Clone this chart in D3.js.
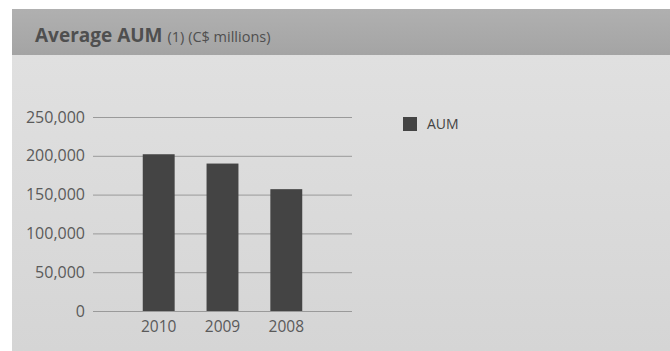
<!DOCTYPE html>
<html>
<head>
<meta charset="utf-8">
<script src="https://cdn.jsdelivr.net/npm/d3@7"></script>
<style>
  html, body { margin: 0; padding: 0; background: #fff; }
  svg { display: block; }
</style>
</head>
<body>
<svg id="chart" width="670" height="351"></svg>
<script>
// Average assets under management by year (C$ millions)
const years = ["2010", "2009", "2008"];
const aum = [202000, 190000, 157000];
const yTicks = [0, 50000, 100000, 150000, 200000, 250000];
const seriesName = "AUM";

const svg = d3.select("#chart");
const W = 670, H = 351;
const FONT = "'Open Sans', sans-serif";

// panel background and header band
const defs = svg.append("defs");
const hg = defs.append("linearGradient").attr("id", "hdr").attr("x1", 0).attr("y1", 0).attr("x2", 0).attr("y2", 1);
hg.append("stop").attr("offset", "0%").attr("stop-color", "#b0b0b0");
hg.append("stop").attr("offset", "100%").attr("stop-color", "#a4a4a4");
const bg = defs.append("linearGradient").attr("id", "body").attr("x1", 0).attr("y1", 0).attr("x2", 0).attr("y2", 1);
bg.append("stop").attr("offset", "0%").attr("stop-color", "#e0e0e0");
bg.append("stop").attr("offset", "100%").attr("stop-color", "#d5d5d5");

svg.append("rect").attr("x", 12).attr("y", 55).attr("width", W - 12).attr("height", H - 55).attr("fill", "url(#body)");
svg.append("rect").attr("x", 12).attr("y", 9).attr("width", W - 12).attr("height", 46).attr("fill", "url(#hdr)");

const title = svg.append("text").attr("x", 35).attr("y", 42)
  .attr("font-family", FONT).attr("fill", "#4f4f4f");
title.append("tspan").attr("font-size", 19).attr("font-weight", 700).text("Average AUM");
title.append("tspan").attr("font-size", 14.5).attr("dx", 5).text("(1) (C$ millions)");

// plot area
const plot = { left: 93, right: 352, top: 117, bottom: 311 };

const x = d3.scaleBand().domain(years).range([plot.left, plot.right])
  .paddingInner(0.5).paddingOuter(0.78);
const y = d3.scaleLinear().domain([0, 250000]).range([plot.bottom, plot.top]);

// horizontal gridlines
svg.append("g").selectAll("line").data(yTicks).join("line")
  .attr("x1", plot.left).attr("x2", plot.right)
  .attr("y1", d => y(d) + 0.5).attr("y2", d => y(d) + 0.5)
  .attr("stroke", "#9a9a9a").attr("stroke-width", 1);

// value axis
const yAxis = svg.append("g").attr("transform", `translate(${plot.left},0)`)
  .call(d3.axisLeft(y).tickValues(yTicks).tickFormat(d3.format(",")).tickSize(0).tickPadding(8));
yAxis.select(".domain").remove();
yAxis.selectAll("text").attr("font-family", FONT).attr("font-size", 16).attr("fill", "#5a5a5a");

// bars
svg.append("g").selectAll("rect").data(years).join("rect")
  .attr("x", d => x(d)).attr("width", x.bandwidth())
  .attr("y", (d, i) => y(aum[i])).attr("height", (d, i) => y(0) - y(aum[i]))
  .attr("fill", "#444");

// category axis
const xAxis = svg.append("g").attr("transform", `translate(0,${plot.bottom})`)
  .call(d3.axisBottom(x).tickSize(0).tickPadding(10));
xAxis.select(".domain").remove();
xAxis.selectAll("text").attr("font-family", FONT).attr("font-size", 15.5).attr("fill", "#5a5a5a");

// legend
const lg = svg.append("g").attr("transform", "translate(403,117)");
lg.append("rect").attr("width", 14).attr("height", 14).attr("fill", "#444");
lg.append("text").attr("x", 24).attr("y", 12).text(seriesName)
  .attr("font-family", FONT).attr("font-size", 14).attr("fill", "#444");
</script>
</body>
</html>
